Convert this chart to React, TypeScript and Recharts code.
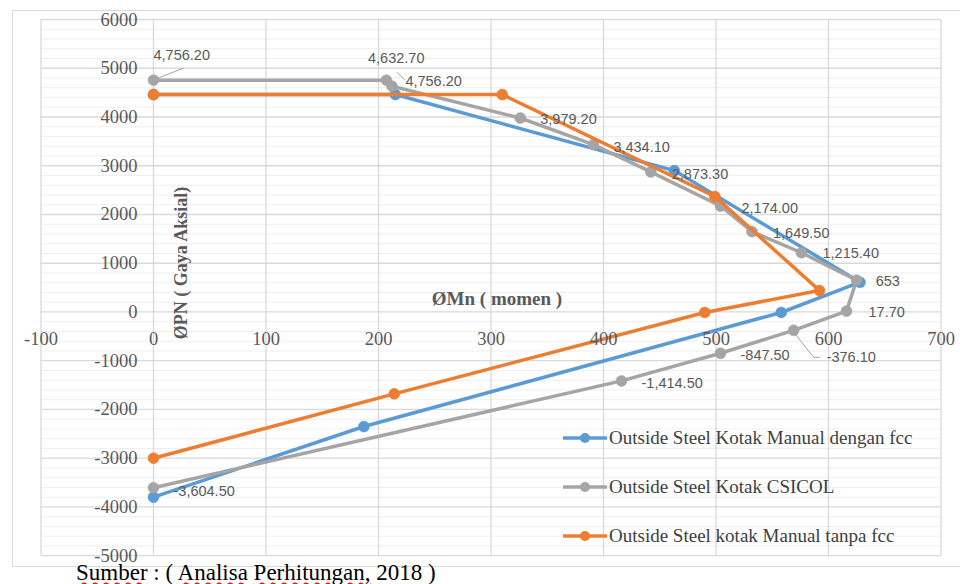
import React from "react";
import { ScatterChart, Scatter, XAxis, YAxis, CartesianGrid } from "recharts";

// ---- data ----
const blueData = [
  { x: 0, y: 4460 },
  { x: 215, y: 4460 },
  { x: 463, y: 2900 },
  { x: 628, y: 610 },
  { x: 558, y: -10 },
  { x: 187, y: -2350 },
  { x: 0, y: -3800 },
];
const grayData = [
  { x: 0, y: 4756.2 },
  { x: 207, y: 4756.2 },
  { x: 212, y: 4632.7 },
  { x: 326, y: 3979.2 },
  { x: 391, y: 3434.1 },
  { x: 442, y: 2873.3 },
  { x: 504, y: 2174.0 },
  { x: 532, y: 1649.5 },
  { x: 576, y: 1215.4 },
  { x: 625, y: 653 },
  { x: 616, y: 17.7 },
  { x: 569, y: -376.1 },
  { x: 504, y: -847.5 },
  { x: 416, y: -1414.5 },
  { x: 0, y: -3604.5 },
];
const orangeData = [
  { x: 0, y: 4460 },
  { x: 310, y: 4460 },
  { x: 499, y: 2370 },
  { x: 592, y: 440 },
  { x: 490, y: -10 },
  { x: 214, y: -1680 },
  { x: 0, y: -3000 },
];
const grayLabels = [
  "4,756.20", "4,756.20", "4,632.70", "3,979.20", "3,434.10", "2,873.30", "2,174.00",
  "1,649.50", "1,215.40", "653", "17.70", "-376.10", "-847.50", "-1,414.50", "-3,604.50",
];
const xTicks = [-100, 0, 100, 200, 300, 400, 500, 600, 700];
const yTicks = [-5000, -4000, -3000, -2000, -1000, 0, 1000, 2000, 3000, 4000, 5000, 6000];
const yMinor = [
  -4800, -4600, -4400, -4200, -3800, -3600, -3400, -3200, -2800, -2600, -2400, -2200,
  -1800, -1600, -1400, -1200, -800, -600, -400, -200, 200, 400, 600, 800, 1200, 1400,
  1600, 1800, 2200, 2400, 2600, 2800, 3200, 3400, 3600, 3800, 4200, 4400, 4600, 4800,
  5200, 5400, 5600, 5800,
];
const seriesNames = [
  "Outside Steel Kotak Manual dengan fcc",
  "Outside Steel Kotak CSICOL",
  "Outside Steel kotak Manual tanpa fcc",
];
const xTitle = "ØMn ( momen )";
const yTitle = "ØPN ( Gaya Aksial)";
const source = ["Sumber", " : ( ", "Analisa", " ", "Perhitungan,", " 2018 )"];

// ---- layout / style ----
const COLORS = ["#5B9BD5", "#A5A5A5", "#ED7D31"];
const W = 960;
const H = 584;
const PL = 41, PR = 941, PT = 19.5, PB = 555.7;
const XMIN = -100, XMAX = 700, YMIN = -5000, YMAX = 6000;
const X0 = PL + ((0 - XMIN) / (XMAX - XMIN)) * (PR - PL);
const Y0 = PT + ((YMAX - 0) / (YMAX - YMIN)) * (PB - PT);
const labelOffsets: Array<[number, number, string?]> = [
  [0, -25, "up"],
  [19, 1],
  [-24, -28, "up2"],
  [20, 1],
  [20, 2],
  [21, 2],
  [21, 2],
  [21, 1],
  [21, 0],
  [19, 1],
  [22, 1],
  [33, 27, "elbow"],
  [20, 2],
  [20, 2],
  [20, 3],
];

const serif = "'Liberation Serif', 'Times New Roman', serif";
const sans = "'Liberation Sans', Arial, sans-serif";

const YTick = (props: any) => {
  const { y, payload } = props;
  return (
    <text x={X0 - 16} y={y} textAnchor="end" dominantBaseline="central" fontFamily={serif} fontSize={18.5} fill="#595959">
      {payload.value}
    </text>
  );
};
const XTick = (props: any) => {
  const { x, payload } = props;
  return (
    <text x={x} y={Y0 + 27} textAnchor="middle" dominantBaseline="central" fontFamily={serif} fontSize={18.5} fill="#595959">
      {payload.value}
    </text>
  );
};

const dotShape = (color: string) => (props: any) => {
  const { cx, cy } = props;
  if (cx == null || cy == null) return <g />;
  return <circle cx={cx} cy={cy} r={5.5} fill={color} stroke={color} strokeWidth={0.5} />;
};

const labelShape = (props: any) => {
  const { cx, cy, payload } = props;
  if (cx == null || cy == null || !payload) return <g />;
  const idx = grayData.findIndex((d) => d.x === payload.x && d.y === payload.y);
  if (idx < 0) return <g />;
  const [dx, dy, leader] = labelOffsets[idx];
  const tx = cx + dx;
  const ty = cy + dy;
  let lead: React.ReactNode = null;
  if (leader === "up") {
    lead = <line x1={cx + 2} y1={cy - 1} x2={cx + 30} y2={cy - 12} stroke="#A6A6A6" strokeWidth={1} />;
  } else if (leader === "up2") {
    lead = <line x1={tx + 29} y1={ty + 14} x2={tx + 37} y2={ty + 22} stroke="#A6A6A6" strokeWidth={1} />;
  } else if (leader === "elbow") {
    lead = (
      <polyline
        points={`${cx + 1},${cy + 3} ${cx + 20},${ty} ${tx - 6},${ty}`}
        fill="none"
        stroke="#A6A6A6"
        strokeWidth={1}
      />
    );
  }
  return (
    <g>
      {lead}
      <text x={tx} y={ty} dominantBaseline="central" fontFamily={sans} fontSize={14.5} fill="#595959">
        {grayLabels[idx]}
      </text>
    </g>
  );
};

const LegendBox = () => (
  <div style={{ position: "absolute", left: 563, top: 413, display: "flex", flexDirection: "column" }}>
    {seriesNames.map((name, i) => (
      <div key={name} style={{ height: 49, display: "flex", alignItems: "center" }}>
        <svg width={46} height={14} style={{ display: "block" }}>
          <line x1={0} y1={7} x2={44} y2={7} stroke={COLORS[i]} strokeWidth={3.5} />
          <circle cx={22} cy={7} r={5} fill={COLORS[i]} />
        </svg>
        <span style={{ fontFamily: serif, fontSize: 19, color: "#404040", whiteSpace: "nowrap" }}>{name}</span>
      </div>
    ))}
  </div>
);

const squiggle: React.CSSProperties = {
  textDecorationLine: "underline",
  textDecorationStyle: "wavy",
  textDecorationColor: "#E02020",
  textUnderlineOffset: 2,
};

export default function App() {
  const datasets = [blueData, grayData, orangeData];
  return (
    <div style={{ position: "fixed", left: 0, top: 0, width: W, height: H, overflow: "hidden", background: "#fff" }}>
      <div
        style={{
          position: "absolute",
          left: 12,
          top: 10,
          width: 980,
          height: 557,
          border: "1px solid #D9D9D9",
          boxSizing: "border-box",
        }}
      />
      <div style={{ position: "absolute", left: 0, top: 0 }}>
        <ScatterChart width={W} height={H} margin={{ left: PL - 1, right: W - PR, top: PT, bottom: H - PB - 1 }}>
          <CartesianGrid horizontalValues={yMinor} vertical={false} stroke="#EFEFEF" strokeWidth={1} />
          <CartesianGrid stroke="#D9D9D9" strokeWidth={1.3} />
          <XAxis
            type="number"
            dataKey="x"
            domain={[XMIN, XMAX]}
            ticks={xTicks}
            interval={0}
            height={1}
            axisLine={false}
            tickLine={false}
            tick={<XTick />}
            allowDataOverflow
          />
          <YAxis
            type="number"
            dataKey="y"
            domain={[YMIN, YMAX]}
            ticks={yTicks}
            interval={0}
            width={1}
            axisLine={false}
            tickLine={false}
            tick={<YTick />}
            allowDataOverflow
          />
          {datasets.map((d, i) => (
            <Scatter
              key={seriesNames[i]}
              name={seriesNames[i]}
              data={d}
              fill={COLORS[i]}
              line={{ strokeWidth: 3.5, stroke: COLORS[i] }}
              lineType="joint"
              shape={dotShape(COLORS[i])}
              isAnimationActive={false}
            />
          ))}
          <Scatter name="labels" data={grayData} fill="none" shape={labelShape} isAnimationActive={false} legendType="none" />
          <text x={497} y={298} textAnchor="middle" dominantBaseline="central" fontFamily={serif} fontWeight="bold" fontSize={19} fill="#595959">
            {xTitle}
          </text>
          <text
            x={181}
            y={263}
            textAnchor="middle"
            dominantBaseline="central"
            fontFamily={serif}
            fontWeight="bold"
            fontSize={18}
            fill="#595959"
            transform="rotate(-90 181 263)"
          >
            {yTitle}
          </text>
        </ScatterChart>
      </div>
      <LegendBox />
      <div
        style={{
          position: "absolute",
          left: 76,
          top: 560,
          fontFamily: serif,
          fontSize: 23,
          color: "#000",
          whiteSpace: "pre",
          lineHeight: "26px",
        }}
      >
        <span style={squiggle}>{source[0]}</span>
        {source[1]}
        <span style={squiggle}>{source[2]}</span>
        {source[3]}
        <span style={squiggle}>{source[4]}</span>
        {source[5]}
      </div>
    </div>
  );
}
